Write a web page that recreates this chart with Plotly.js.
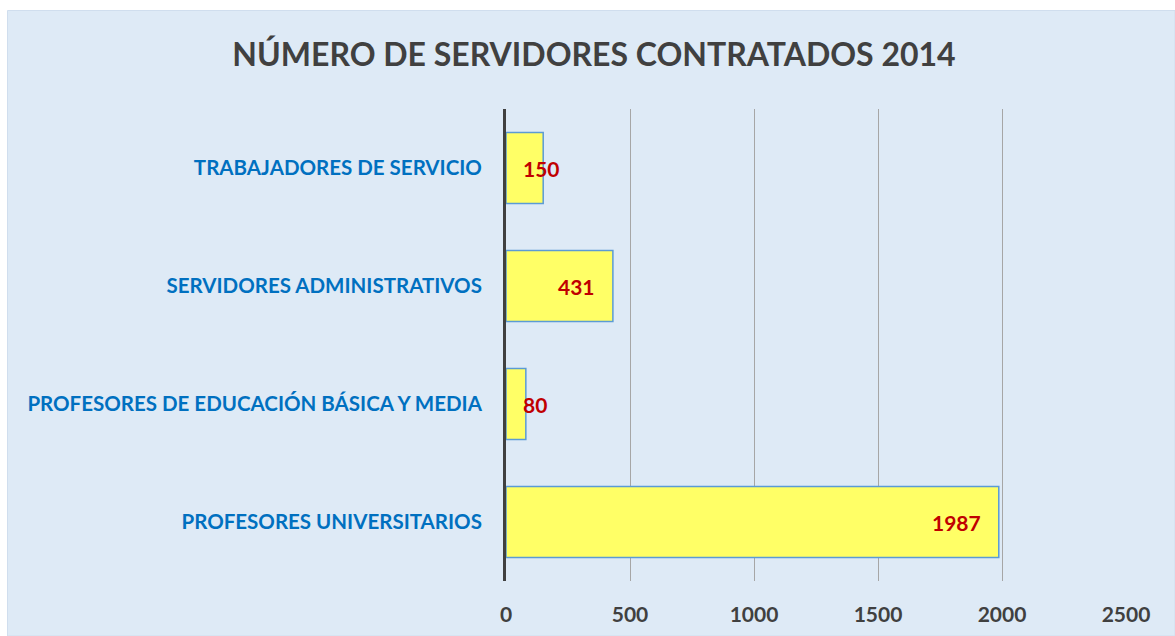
<!DOCTYPE html>
<html>
<head>
<meta charset="utf-8">
<script src="https://cdn.plot.ly/plotly-3.0.1.min.js"></script>
<style>html,body{margin:0;padding:0;background:#fff;}#chart{width:1175px;height:636px;}</style>
</head>
<body>
<div id="chart"></div>
<script>
const categories = [
  "TRABAJADORES DE SERVICIO",
  "SERVIDORES ADMINISTRATIVOS",
  "PROFESORES DE EDUCACIÓN BÁSICA Y MEDIA",
  "PROFESORES UNIVERSITARIOS"
];
const values = [150, 431, 80, 1987];
const xTicks = [0, 500, 1000, 1500, 2000, 2500];
const chartTitle = "NÚMERO DE SERVIDORES CONTRATADOS 2014";

const W = 1175, H = 636;
const L = 506, R = 49, T = 109, B = 55;
const pw = W - L - R, ph = H - T - B;
const xMax = 2500;
const pxPerUnit = pw / xMax;
const FONT = "Lato, 'Open Sans', sans-serif";

const annotations = values.map((v, i) => {
  const txt = String(v);
  const tw = txt.length * 12;
  const barPx = v * pxPerUnit;
  const fits = barPx >= tw + 32;
  return {
    x: fits ? v : 0, y: categories[i], xref: 'x', yref: 'y',
    text: '<b>' + txt + '</b>', showarrow: false,
    xanchor: fits ? 'right' : 'left', xshift: fits ? -16 : 15,
    font: {family: FONT, size: 21, color: '#C00000'}
  };
});

const px2paperX = p => (p - L) / pw;
const px2paperY = p => (H - B - p) / ph;

const data = [{
  type: 'bar', orientation: 'h',
  y: categories, x: values,
  width: 0.6,
  marker: {color: '#FFFF66', line: {color: '#5B9BD5', width: 1.5}},
  hoverinfo: 'none'
}];

const layout = {
  width: W, height: H,
  margin: {l: L, r: R, t: T, b: B, pad: 0},
  paper_bgcolor: '#ffffff',
  plot_bgcolor: 'rgba(0,0,0,0)',
  showlegend: false,
  title: {
    text: '<b>' + chartTitle + '</b>',
    font: {family: FONT, size: 32, color: '#404040'},
    x: 594 / W, xanchor: 'center', xref: 'container',
    y: 1 - 55 / H, yanchor: 'middle', yref: 'container'
  },
  xaxis: {
    range: [0, xMax], tickvals: xTicks, ticktext: xTicks.map(String),
    showgrid: true, gridcolor: '#A6A6A6', gridwidth: 1,
    zeroline: false, showline: false, ticks: '',
    ticklabelstandoff: 19,
    tickfont: {family: FONT, size: 21, color: '#404040', weight: 'bold'},
    fixedrange: true
  },
  yaxis: {
    type: 'category', categoryorder: 'array', categoryarray: categories,
    autorange: 'reversed',
    showline: true, linecolor: '#404040', linewidth: 3,
    showgrid: false, zeroline: false, ticks: '',
    ticklabelstandoff: 17,
    tickfont: {family: FONT, size: 20.5, color: '#0070C0', weight: 'bold'},
    fixedrange: true
  },
  bargap: 0.4,
  annotations: annotations,
  shapes: [{
    type: 'rect', xref: 'paper', yref: 'paper', layer: 'below',
    x0: px2paperX(7.5), x1: px2paperX(1175), y0: px2paperY(636), y1: px2paperY(10.5),
    fillcolor: '#DEEAF6', line: {color: '#D0DEEE', width: 1}
  }]
};

Plotly.newPlot('chart', data, layout, {displayModeBar: false, staticPlot: true});
</script>
</body>
</html>
